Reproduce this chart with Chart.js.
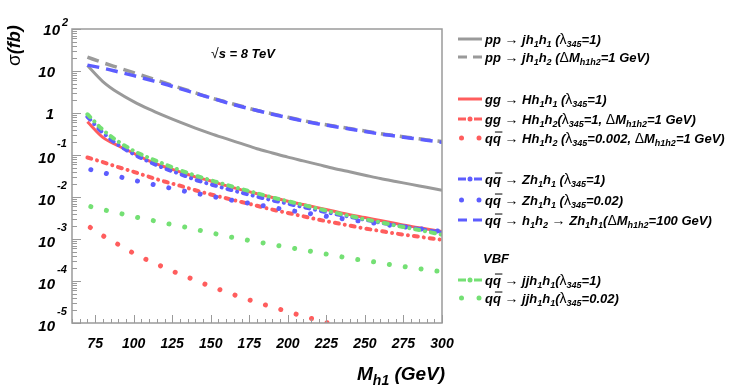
<!DOCTYPE html>
<html>
<head>
<meta charset="utf-8">
<script src="https://cdn.jsdelivr.net/npm/chart.js@4.4.0/dist/chart.umd.min.js"></script>
<style>
  body { margin: 0; background: #fff; }
  #wrap { width: 747px; height: 388px; }
</style>
</head>
<body>
<div id="wrap"><canvas id="xsec" width="747" height="388"></canvas></div>
<script>
// ---------- DATA (sigma in fb vs M_h1 in GeV) ----------
var mass = [70, 80, 90, 100, 110, 120, 130, 140, 150, 160, 170, 180,
            190, 200, 210, 220, 230, 240, 250, 260, 270, 280, 290, 300];

var ppJh1h1 = [13.5, 5.62, 3.02, 1.86, 1.23, 0.851, 0.603, 0.437, 0.324, 0.245, 0.186, 0.141,
               0.112, 0.0891, 0.0724, 0.0589, 0.0479, 0.0398, 0.0331, 0.0275, 0.0234, 0.0200, 0.0170, 0.0145];
var ppJh1h2 = [21.4, 15.8, 12.0, 9.12, 6.92, 5.25, 3.98, 3.02, 2.29, 1.82, 1.45, 1.15,
               0.955, 0.794, 0.661, 0.562, 0.490, 0.427, 0.372, 0.324, 0.288, 0.257, 0.229, 0.209];
var ggHh1h1 = [0.617, 0.263, 0.166, 0.110, 0.0724, 0.0525, 0.0398, 0.0302, 0.0240, 0.0186, 0.0148, 0.0120,
               0.00977, 0.00794, 0.00661, 0.00550, 0.00457, 0.00380, 0.00324, 0.00275, 0.00234, 0.00200, 0.00174, 0.00151];
var ggHh1h2 = [0.0871, 0.0676, 0.0513, 0.0398, 0.0302, 0.0234, 0.0186, 0.0145, 0.0115, 0.00933, 0.00759, 0.00617,
               0.00501, 0.00417, 0.00347, 0.00288, 0.00245, 0.00209, 0.00178, 0.00155, 0.00135, 0.00120, 0.00107, 0.000955];
// runs off the bottom of the plot after 220 GeV
var qqHh1h2 = [0.00209, 0.00120, 0.000741, 0.000457, 0.000302, 0.000209, 0.000145, 0.000105, 0.0000741,
               0.0000550, 0.0000407, 0.0000309, 0.0000240, 0.0000186, 0.0000145, 0.0000115, 0.00000912];
var qqZh1h1 = [0.813, 0.339, 0.174, 0.105, 0.0692, 0.0479, 0.0355, 0.0257, 0.0200, 0.0158, 0.0126, 0.0102,
               0.00832, 0.00692, 0.00575, 0.00479, 0.00398, 0.00339, 0.00288, 0.00245, 0.00214, 0.00186, 0.00162, 0.00141];
var qqZh1h1Small = [0.0468, 0.0380, 0.0309, 0.0251, 0.0209, 0.0174, 0.0145, 0.0123, 0.0105, 0.00891, 0.00759, 0.00661,
                    0.00562, 0.00490, 0.00427, 0.00372, 0.00324, 0.00288, 0.00257, 0.00229, 0.00204, 0.00186, 0.00166, 0.00151];
var qqH1h2Z = [13.8, 11.7, 9.55, 7.76, 6.17, 4.90, 3.80, 2.95, 2.29, 1.78, 1.41, 1.15,
               0.933, 0.776, 0.646, 0.550, 0.479, 0.417, 0.363, 0.316, 0.282, 0.251, 0.224, 0.200];
var vbfJJ = [0.933, 0.398, 0.209, 0.126, 0.0851, 0.0603, 0.0437, 0.0324, 0.0251, 0.0195, 0.0155, 0.0123,
             0.00977, 0.00794, 0.00646, 0.00525, 0.00427, 0.00355, 0.00295, 0.00251, 0.00209, 0.00178, 0.00151, 0.00126];
var vbfJJSmall = [0.00617, 0.00501, 0.00417, 0.00339, 0.00288, 0.00240, 0.00204, 0.00170, 0.00141, 0.00117, 0.00100, 0.000851,
                  0.000741, 0.000631, 0.000550, 0.000468, 0.000407, 0.000347, 0.000309, 0.000269, 0.000234, 0.000209, 0.000186, 0.000166];

var xTicks = [75, 100, 125, 150, 175, 200, 225, 250, 275, 300];
var yExps = [2, 1, 0, -1, -2, -3, -4, -5];

// ---------- STYLE ----------
var GRAY = '#9a9a9a', RED = '#ff5d5d', BLUE = '#5d5dff', GREEN = '#74e074';
var SOLID = [], DASH = [12, 7], DASHDOT = [4, 6, 0.01, 6], DOT = [0.01, 16];
var FAM = "'Liberation Sans', Arial, Helvetica, sans-serif";

function pts(ys) {
  return ys.map(function (y, i) { return { x: mass[i], y: y }; });
}

function series(label, ys, color, dash, width, order) {
  var round = (dash === DOT || dash === DASHDOT);
  return {
    label: label,
    data: pts(ys),
    borderColor: color,
    backgroundColor: color,
    borderWidth: width,
    borderDash: dash,
    borderDashOffset: dash === DOT ? 12.5 : 0,
    borderCapStyle: round ? 'round' : 'butt',
    pointRadius: 0,
    fill: false,
    cubicInterpolationMode: 'monotone',
    order: order
  };
}

// legend rows: [dataset index or null, y, text]
var legendRows = [
  [0, 39, "pp {→} jh_{1}h_{1} ({λ}_{345}=1)"],
  [1, 57, "pp {→} jh_{1}h_{2} ({Δ}M_{h1h2}=1 GeV)"],
  [2, 99, "gg {→} Hh_{1}h_{1} ({λ}_{345}=1)"],
  [3, 119, "gg {→} Hh_{1}h_{2}({λ}_{345}=1, {Δ}M_{h1h2}=1 GeV)"],
  [4, 138, "q~q {→} Hh_{1}h_{2} ({λ}_{345}=0.002, {Δ}M_{h1h2}=1 GeV)"],
  [5, 179, "q~q {→} Zh_{1}h_{1} ({λ}_{345}=1)"],
  [6, 200, "q~q {→} Zh_{1}h_{1} ({λ}_{345}=0.02)"],
  [7, 220, "q~q {→} h_{1}h_{2} {→} Zh_{1}h_{1}({Δ}M_{h1h2}=100 GeV)"],
  [null, 258, "VBF"],
  [8, 280, "q~q {→} jjh_{1}h_{1}({λ}_{345}=1)"],
  [9, 298, "q~q {→} jjh_{1}h_{1}({λ}_{345}=0.02)"]
];

// ---------- RICH TEXT (sub/superscripts, q-bar) ----------
function parse(s) {
  var out = [], buf = '', i = 0, j;
  function flush() { if (buf) { out.push([buf, 't']); buf = ''; } }
  while (i < s.length) {
    var c = s[i];
    if ((c === '_' || c === '^') && s[i + 1] === '{') {
      flush(); j = s.indexOf('}', i);
      out.push([s.slice(i + 2, j), c === '_' ? 's' : 'p']); i = j + 1;
    } else if (c === '{') {
      flush(); j = s.indexOf('}', i);
      out.push([s.slice(i + 1, j), 'g']); i = j + 1;
    } else if (c === '~') {
      flush(); out.push([s[i + 1], 'b']); i += 2;
    } else { buf += c; i++; }
  }
  flush();
  return out;
}

function drawRich(ctx, s, x, y, size) {
  // y is the vertical centre of the main text
  var base = y + size * 0.36;
  parse(s).forEach(function (p) {
    var t = p[0], k = p[1], dy = 0;
    if (k === 's') { ctx.font = 'italic bold ' + Math.round(size * 0.72) + 'px ' + FAM; dy = size * 0.28; }
    else if (k === 'p') { ctx.font = 'italic bold ' + Math.round(size * 0.72) + 'px ' + FAM; dy = -size * 0.45; }
    else if (k === 'g') { ctx.font = Math.round(size * 1.05) + 'px ' + FAM; }
    else { ctx.font = 'italic bold ' + size + 'px ' + FAM; }
    ctx.fillText(t, x, base + dy);
    var w = ctx.measureText(t).width;
    if (k === 'b') {
      ctx.save();
      ctx.lineWidth = 1;
      ctx.strokeStyle = ctx.fillStyle;
      ctx.beginPath();
      ctx.moveTo(x + 2, base - size * 0.82);
      ctx.lineTo(x + w + 1.5, base - size * 0.82);
      ctx.stroke();
      ctx.restore();
    }
    x += w;
  });
  return x;
}

// ---------- DECORATION PLUGIN ----------
var decor = {
  id: 'decor',
  afterDraw: function (chart) {
    var ctx = chart.ctx, a = chart.chartArea;
    var sx = chart.scales.x, sy = chart.scales.y;
    ctx.save();

    // frame
    ctx.strokeStyle = '#9a9a9a';
    ctx.lineWidth = 1.5;
    ctx.strokeRect(a.left, a.top, a.right - a.left, a.bottom - a.top);

    // y ticks (inside)
    ctx.lineWidth = 1;
    ctx.beginPath();
    for (var e = -5; e <= 2; e++) {
      for (var m = 1; m <= 9; m++) {
        var v = m * Math.pow(10, e);
        if (v > 100 + 1e-9) break;
        var py = Math.round(sy.getPixelForValue(v)) + 0.5;
        var len = m === 1 ? 9 : 5;
        ctx.moveTo(a.left, py);
        ctx.lineTo(a.left + len, py);
      }
    }
    // x ticks (inside)
    for (var xv = 60; xv <= 300; xv += 5) {
      var px = Math.round(sx.getPixelForValue(xv)) + 0.5;
      var l = (xv % 25 === 0) ? 8 : 4;
      ctx.moveTo(px, a.bottom);
      ctx.lineTo(px, a.bottom - l);
    }
    ctx.stroke();

    ctx.fillStyle = '#000';
    ctx.textBaseline = 'alphabetic';

    // y tick labels
    yExps.forEach(function (ex) {
      var py = sy.getPixelForValue(Math.pow(10, ex));
      ctx.textAlign = 'right';
      ctx.font = 'italic bold 15px ' + FAM;
      var right = ex === 2 ? 60 : 55;
      if (ex === 0) {
        ctx.fillText('1', 54, py + 5.5);
      } else {
        ctx.fillText('10', right, py + 5.5 + (ex < 0 ? 2 : 0));
        if (ex !== 1) {
          ctx.textAlign = 'left';
          ctx.font = 'italic bold 11px ' + FAM;
          ctx.fillText(String(ex), right + 2, py - (ex < 0 ? 8 : 3));
        }
      }
    });

    // x tick labels
    ctx.textAlign = 'center';
    ctx.font = 'italic bold 14px ' + FAM;
    xTicks.forEach(function (t) {
      ctx.fillText(String(t), sx.getPixelForValue(t), 348);
    });

    // x title
    ctx.textAlign = 'left';
    drawRich(ctx, 'M_{h1} (GeV)', 357, 373, 19);

    // y title
    ctx.save();
    ctx.translate(21, 66);
    ctx.rotate(-Math.PI / 2);
    drawRich(ctx, '{σ}(fb)', 0, -7, 18);
    ctx.restore();

    // sqrt(s)
    drawRich(ctx, '{√}s = 8 TeV', 211, 53, 13);

    // legend
    var x0 = 458, x1 = 482;
    legendRows.forEach(function (row) {
      var idx = row[0], y = row[1];
      if (idx !== null) {
        var ds = chart.data.datasets[idx];
        ctx.strokeStyle = ds.borderColor;
        ctx.fillStyle = ds.borderColor;
        ctx.lineWidth = 3;
        ctx.setLineDash([]);
        if (ds.borderDash === DOT) {
          [461.5, 479].forEach(function (cx) {
            ctx.beginPath(); ctx.arc(cx, y, 2.5, 0, Math.PI * 2); ctx.fill();
          });
        } else if (ds.borderDash === DASHDOT) {
          ctx.beginPath();
          ctx.moveTo(x0, y); ctx.lineTo(466, y);
          ctx.moveTo(474, y); ctx.lineTo(x1, y);
          ctx.stroke();
          ctx.beginPath(); ctx.arc(470, y, 2.5, 0, Math.PI * 2); ctx.fill();
        } else if (ds.borderDash === DASH) {
          ctx.beginPath();
          ctx.moveTo(x0, y); ctx.lineTo(467, y);
          ctx.moveTo(473, y); ctx.lineTo(x1, y);
          ctx.stroke();
        } else {
          ctx.beginPath(); ctx.moveTo(x0, y); ctx.lineTo(x1, y); ctx.stroke();
        }
      }
      ctx.fillStyle = '#000';
      ctx.strokeStyle = '#000';
      drawRich(ctx, row[2], idx === null ? 483 : 485, y, 13);
    });

    ctx.restore();
  }
};

// ---------- CHART ----------
new Chart(document.getElementById('xsec'), {
  type: 'line',
  data: {
    datasets: [
      series('pp -> jh1h1 (l345=1)', ppJh1h1, GRAY, SOLID, 3, 10),
      series('pp -> jh1h2 (dM=1 GeV)', ppJh1h2, GRAY, DASH, 3.5, 9),
      series('gg -> Hh1h1 (l345=1)', ggHh1h1, RED, SOLID, 3, 5),
      series('gg -> Hh1h2 (l345=1, dM=1 GeV)', ggHh1h2, RED, DASHDOT, 4, 6),
      series('qq -> Hh1h2 (l345=0.002, dM=1 GeV)', qqHh1h2, RED, DOT, 5, 7),
      series('qq -> Zh1h1 (l345=1)', qqZh1h1, BLUE, DASHDOT, 4, 4),
      series('qq -> Zh1h1 (l345=0.02)', qqZh1h1Small, BLUE, DOT, 5, 3),
      series('qq -> h1h2 -> Zh1h1 (dM=100 GeV)', qqH1h2Z, BLUE, DASH, 3.5, 8),
      series('VBF qq -> jjh1h1 (l345=1)', vbfJJ, GREEN, DASHDOT, 4, 2),
      series('VBF qq -> jjh1h1 (l345=0.02)', vbfJJSmall, GREEN, DOT, 5, 1)
    ]
  },
  options: {
    responsive: false,
    animation: false,
    layout: { padding: { left: 0, top: 29, right: 305, bottom: 0 } },
    plugins: {
      legend: { display: false },
      tooltip: { enabled: false }
    },
    scales: {
      x: {
        type: 'linear', min: 60, max: 300,
        ticks: { display: false },
        grid: { display: false },
        border: { display: false },
        afterFit: function (s) { s.height = 65; }
      },
      y: {
        type: 'logarithmic', min: 1e-5, max: 100,
        ticks: { display: false },
        grid: { display: false },
        border: { display: false },
        afterFit: function (s) { s.width = 72; }
      }
    }
  },
  plugins: [decor]
});
</script>
</body>
</html>
